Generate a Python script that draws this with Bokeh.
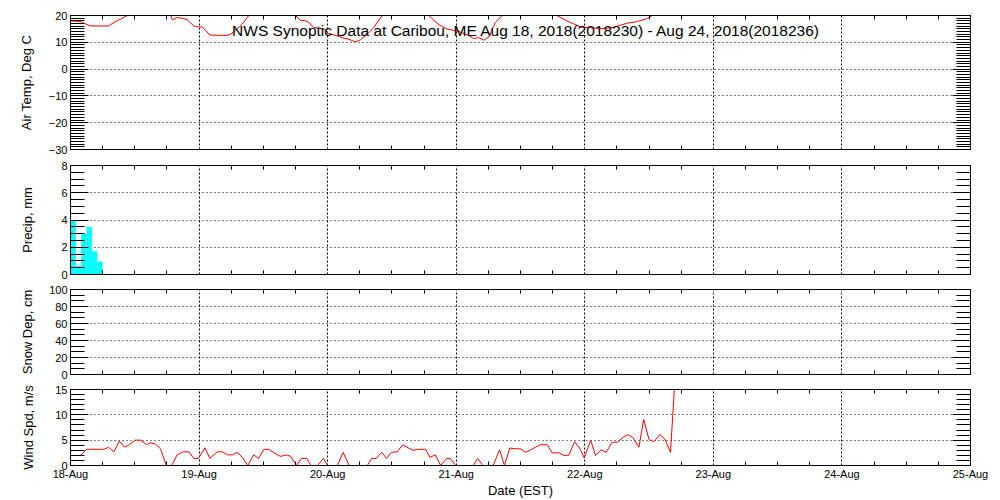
from bokeh.plotting import figure
from bokeh.models import Range1d, FixedTicker, LinearAxis, Label
from bokeh.layouts import column
from bokeh.embed import file_html
from bokeh.resources import INLINE

# ---------------- data ----------------
day_ticks = [0, 24, 48, 72, 96, 120, 144, 168]
day_labels = ["18-Aug", "19-Aug", "20-Aug", "21-Aug", "22-Aug", "23-Aug", "24-Aug", "25-Aug"]
six_hour_ticks = [h for h in range(0, 169, 6) if h % 24 != 0]

title_text = "NWS Synoptic Data at Caribou, ME   Aug 18, 2018(2018230) - Aug 24, 2018(2018236)"

# hours since Aug 18 00:00 EST
temp_hours = [0, 1.9, 2.5, 3.7, 7.1, 8.1, 9.3, 10.6, 13, 15, 17, 18.7, 19.0, 19.9,
              20.9, 21.8, 23.0, 23.9, 24.6, 26.0, 27.4, 29.2, 29.9, 31.1, 32.0, 33.3,
              36, 39, 42.0, 42.9, 43.9, 44.5, 45.4, 47.3, 48.2, 49.8, 50.7, 52.0,
              53.2, 54.1, 55.4, 56.6, 58.2, 61, 64, 66.9, 67.8, 68.8, 70.3, 72.2,
              74.1, 75.3, 76.2, 77.2, 78.1, 79.3, 80.6, 84, 87, 90.8, 92.1, 93.3,
              95.2, 96.5, 99.6, 101.1, 102.7, 103.9, 105.8, 107.3, 108.6, 112.4]
temp_vals = [18.0, 17.75, 17.1, 16.1, 16.1, 17.4, 18.6, 20.0, 23.0, 24.0, 22.5, 20.0, 18.4, 19.25,
             19.0, 18.4, 16.1, 15.75, 15.75, 12.75, 12.6, 12.6, 13.0, 14.9, 16.75, 20.0,
             24.0, 25.0, 20.0, 18.25, 18.0, 17.4, 15.5, 14.9, 13.25, 12.4, 11.75, 11.1,
             10.1, 10.9, 13.0, 15.5, 20.0, 24.0, 25.0, 20.0, 18.25, 16.5, 14.9, 14.25,
             12.75, 11.4, 11.75, 10.75, 12.0, 17.4, 20.0, 24.0, 25.0, 20.0, 18.6, 17.4,
             15.75, 15.5, 15.1, 15.5, 16.4, 17.1, 17.75, 18.6, 20.0, 22.0]

precip_hours = [0, 1, 2, 3, 4, 5]
precip_vals = [4.0, 0.65, 3.0, 3.5, 1.7, 0.95]

snow_hours = []
snow_vals = []

wind_hours = [1.9, 3.0, 6.2, 7.1, 8.1, 9.1, 10.1, 11.0, 12.1, 13.1, 14.2, 14.9, 15.9, 16.8,
              17.9, 18.9, 19.9, 21.1, 22.1, 23.0, 23.9, 25.1, 26.0, 27.4, 28.3, 29.3,
              30.2, 31.1, 32.1, 33.1, 34.2, 35.1, 36.1, 37.0, 38.3, 39.2, 40.3, 41.1,
              42.2, 43.1, 44.1, 44.9, 46.1, 47.2, 48.0, 49.8, 50.9, 52.0, 55.4, 56.2,
              57.1, 58.1, 59.0, 59.9, 61.0, 62.0, 63.0, 64.0, 64.9, 66.3, 67.1, 68.1,
              69.1, 70.2, 70.9, 71.9, 75.2, 76.0, 77.0, 78.9, 80.1, 81.0, 82.0, 83.1,
              84.0, 84.9, 85.9, 86.8, 87.7, 89.0, 89.9, 91.2, 92.1, 93.0, 94.1, 95.1,
              95.9, 97.1, 98.0, 99.1, 100.0, 101.1, 102.1, 103.2, 104.0, 105.0, 106.1,
              107.0, 108.0, 108.9, 110.0, 110.9, 112.0, 112.6, 112.8]
wind_vals = [2.0, 3.2, 3.2, 3.6, 2.7, 4.8, 3.6, 4.1, 5.0, 5.0, 4.1, 4.5, 4.2, 3.3,
             0, 0, 2.1, 2.7, 2.7, 1.4, 1.4, 3.5, 1.4, 2.7, 2.7, 2.1,
             2.1, 2.6, 1.6, 0, 2.1, 1.4, 3.2, 3.2, 2.3, 1.8, 2.1, 1.8,
             0, 1.4, 1.4, 0, 0, 1.4, 0, 0, 2.6, 0, 0, 1.4,
             1.4, 2.6, 1.4, 2.6, 2.7, 4.1, 3.5, 3.0, 3.2, 3.2, 1.6, 2.1,
             0, 1.4, 1.4, 0, 0, 1.4, 0, 0, 3.1, 0, 3.45, 3.3,
             3.3, 2.6, 3.1, 3.6, 4.1, 4.1, 2.5, 2.5, 2.0, 2.0, 4.7, 3.3,
             1.5, 5.0, 2.0, 3.1, 2.6, 4.6, 4.6, 5.6, 6.1, 5.5, 3.6,
             9.1, 5.1, 4.7, 6.1, 5.3, 2.6, 13.0, 17.0]

temp_ticks = [-30, -20, -10, 0, 10, 20]
temp_minor = list(range(-30, 21))
precip_ticks = [0, 2, 4, 6, 8]
precip_minor = [i * 0.5 for i in range(17)]
snow_ticks = [0, 20, 40, 60, 80, 100]
snow_minor = [i * 20 / 3 for i in range(16)]
wind_ticks = [0, 5, 10, 15]
wind_minor = list(range(16))

# ---------------- styling ----------------
FONT = "Liberation Sans"
W = 1000
x_range = Range1d(0, 168)


def style_x(ax, labels):
    ax.ticker = FixedTicker(ticks=day_ticks, minor_ticks=six_hour_ticks)
    ax.major_tick_in = 0
    ax.major_tick_out = 0
    ax.minor_tick_in = 4
    ax.minor_tick_out = 0
    ax.axis_line_color = "black"
    ax.minor_tick_line_color = "black"
    ax.major_label_text_font = FONT
    ax.major_label_text_color = "black"
    if labels:
        ax.major_label_overrides = {t: l for t, l in zip(day_ticks, day_labels)}
        ax.major_label_text_font_size = "11px"
        ax.major_label_standoff = 2
    else:
        ax.major_label_overrides = {t: "" for t in day_ticks}
        ax.major_label_text_font_size = "0px"
        ax.major_label_standoff = 0


def style_y(ax, ticks, minor, labels):
    ax.ticker = FixedTicker(ticks=ticks, minor_ticks=minor)
    ax.major_tick_in = 18
    ax.major_tick_out = 0
    ax.minor_tick_in = 14
    ax.minor_tick_out = 0
    ax.axis_line_color = "black"
    ax.major_tick_line_color = "black"
    ax.minor_tick_line_color = "black"
    ax.major_label_text_font = FONT
    ax.major_label_text_color = "black"
    if labels:
        ax.major_label_text_font_size = "11px"
        ax.major_label_standoff = 3
    else:
        ax.major_label_overrides = {t: "" for t in ticks}
        ax.major_label_text_font_size = "0px"
        ax.major_label_standoff = 0


def panel(height, top, bottom, y0, y1, ticks, minor, ylabel, lab_standoff, xlabels=False):
    p = figure(width=W, height=height, x_range=x_range, y_range=Range1d(y0, y1),
               output_backend="svg", toolbar_location=None,
               min_border_left=70, min_border_right=30,
               min_border_top=top, min_border_bottom=bottom)
    p.outline_line_color = "black"
    p.background_fill_color = "white"
    p.border_fill_color = "white"
    bottom_ax = p.xaxis[0]
    style_x(bottom_ax, xlabels)
    left_ax = p.yaxis[0]
    style_y(left_ax, ticks, minor, True)
    left_ax.axis_label = ylabel
    left_ax.axis_label_text_font = FONT
    left_ax.axis_label_text_font_size = "13px"
    left_ax.axis_label_text_font_style = "normal"
    left_ax.axis_label_text_color = "black"
    left_ax.axis_label_standoff = lab_standoff
    top_ax = LinearAxis()
    style_x(top_ax, False)
    p.add_layout(top_ax, "above")
    right_ax = LinearAxis()
    style_y(right_ax, ticks, minor, False)
    p.add_layout(right_ax, "right")
    p.xgrid.ticker = FixedTicker(ticks=day_ticks)
    p.xgrid.grid_line_color = "black"
    p.xgrid.grid_line_dash = "2 2"
    p.ygrid.ticker = FixedTicker(ticks=ticks)
    p.ygrid.grid_line_color = "black"
    p.ygrid.grid_line_dash = "1 3"
    return p, bottom_ax


p1, _ = panel(157, 15, 8, -30, 20, temp_ticks, temp_minor, "Air Temp, Deg C", 12)
p1.line(temp_hours, temp_vals, line_color="red", line_width=1)
p1.add_layout(Label(x=85.9, y=14.3, text=title_text, text_align="center",
                    text_baseline="middle", text_font=FONT, text_font_size="15.5px",
                    text_color="black"))

p2, _ = panel(124, 8, 7, 0, 8, precip_ticks, precip_minor, "Precip, mm", 23)
p2.vbar(x=[h + 0.5 for h in precip_hours], top=precip_vals, width=1, bottom=0,
        fill_color="cyan", line_color=None)

p3, _ = panel(100, 8, 7, 0, 100, snow_ticks, snow_minor, "Snow Dep, cm", 11)
p3.line(snow_hours, snow_vals, line_color="red", line_width=1)

p4, xb = panel(119, 8, 31, 0, 15, wind_ticks, wind_minor, "Wind Spd, m/s", 16, xlabels=True)
p4.line(wind_hours, wind_vals, line_color="red", line_width=1)
xb.axis_label = "Date (EST)"
xb.axis_label_text_font = FONT
xb.axis_label_text_font_size = "13px"
xb.axis_label_text_font_style = "normal"
xb.axis_label_text_color = "black"
xb.axis_label_standoff = 0

layout = column(p1, p2, p3, p4)

open("out.html", "w").write(file_html(layout, INLINE))
